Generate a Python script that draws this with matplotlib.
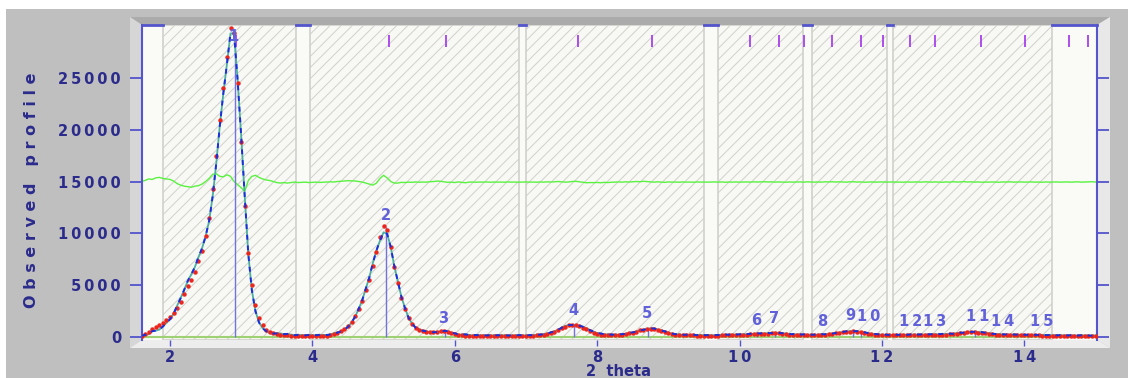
import numpy as np
import matplotlib
matplotlib.use("Agg")
import matplotlib.pyplot as plt
from matplotlib.patches import Polygon

W, H = 1128, 378

# 2-theta grid of the profile (step 0.05)
two_theta = np.round(np.arange(1.60, 15.001, 0.05), 2)

y_obs = np.array([
    100, 300, 500, 750, 950, 1100, 1300, 1600, 1900, 2300,
    2800, 3400, 4100, 4900, 5500, 6300, 7300, 8300, 9700, 11500,
    14300, 17500, 20900, 24000, 27000, 29800, 29300, 24500, 18800, 12600,
    8100, 5000, 3100, 1800, 1100, 700, 480, 330, 240, 190,
    160, 140, 120, 110, 100, 100, 90, 90, 100, 100,
    110, 120, 130, 200, 300, 400, 550, 750, 1050, 1450,
    2000, 2700, 3500, 4500, 5500, 6800, 8200, 9600, 10700, 10300,
    8700, 6700, 5200, 3800, 2700, 1800, 1200, 850, 650, 550,
    480, 450, 450, 500, 560, 550, 480, 350, 250, 180,
    150, 130, 120, 110, 110, 100, 100, 100, 100, 100,
    100, 100, 100, 90, 90, 90, 100, 100, 100, 110,
    120, 140, 170, 220, 290, 390, 520, 680, 850, 1000,
    1100, 1150, 1130, 1050, 900, 720, 540, 390, 280, 210,
    170, 150, 150, 160, 180, 210, 260, 330, 420, 520,
    620, 700, 760, 780, 750, 680, 580, 460, 350, 270,
    210, 180, 160, 150, 140, 140, 130, 130, 120, 110,
    110, 120, 130, 140, 150, 160, 170, 180, 190, 200,
    220, 240, 260, 280, 300, 310, 320, 330, 350, 340,
    300, 260, 230, 210, 200, 190, 180, 170, 160, 170,
    180, 200, 220, 250, 290, 330, 380, 430, 480, 520,
    530, 500, 450, 380, 320, 260, 220, 190, 170, 150,
    140, 140, 150, 150, 160, 160, 170, 170, 180, 180,
    190, 190, 200, 200, 210, 220, 230, 250, 280, 320,
    360, 400, 430, 450, 440, 420, 390, 350, 300, 260,
    230, 210, 200, 190, 180, 170, 160, 160, 150, 150,
    150, 140, 140, 130, 130, 120, 120, 110, 110, 100,
    100, 100, 100, 100, 100, 90, 90, 100, 100,
])

# Yobs - Ycalc
y_diff = np.array([
    0, 100, 250, 200, 350, 400, 300, 250, 200, 50,
    -200, -350, -450, -500, -550, -450, -400, -250, 0, 300,
    700, 750, 500, 450, 650, 500, 0, -300, -600, -950,
    100, 500, 600, 400, 250, 150, 100, 0, -100, -150,
    -100, -150, -100, -50, -100, -80, -60, -100, -80, -60,
    -90, -70, -50, -30, -50, 0, 20, 50, 80, 60,
    50, 0, -50, -150, -250, -350, -150, 300, 600, 350,
    0, -150, -150, -80, -100, -60, -80, -40, -70, -50,
    -60, -20, 0, 40, 20, -30, -80, -60, -100, -40,
    -80, -120, -60, -50, -70, -50, -60, -40, -70, -50,
    -60, -50, -70, -40, -60, -50, -70, -50, -40, -60,
    -50, -70, -40, -60, -30, -50, -20, 0, -30, -60,
    -40, 0, 20, -30, -80, -120, -100, -110, -90, -120,
    -80, -100, -70, -60, -40, -60, -30, -50, -20, 0,
    -20, 20, -10, -40, -60, -30, -50, -80, -40, -60,
    -50, -70, -40, -60, -50, -70, -40, -60, -50, -60,
    -50, -40, -60, -40, -70, -50, -60, -40, -60, -50,
    -40, -60, -30, -50, -40, -20, -50, -30, -60, -40,
    -50, -70, -40, -60, -50, -40, -60, -30, -50, -60,
    -40, -60, -30, -40, -20, -50, -30, -40, -60, -30,
    -20, -50, -40, -70, -50, -40, -60, -50, -40, -60,
    -50, -40, -60, -50, -70, -40, -60, -50, -40, -60,
    -30, -50, -60, -40, -50, -70, -40, -60, -20, -50,
    -40, -10, -50, -30, -60, -40, -70, -50, -60, -40,
    -50, -70, -40, -50, -30, -60, -50, -40, -60, -50,
    -40, -60, -50, -70, -40, -60, -50, -40, -60, -50,
    -40, -60, -50, -30, -60, -50, -40, -20, -50,
])
y_calc = y_obs - y_diff
diff_offset = 15000

# excluded (white) regions and fitted (hatched) regions
excluded = [(1.60, 1.90), (3.77, 3.97), (6.90, 7.00), (9.50, 9.70),
            (10.89, 11.02), (12.07, 12.15), (14.39, 15.02)]
included = [(1.90, 3.77), (3.97, 6.90), (7.00, 9.50), (9.70, 10.89),
            (11.02, 12.07), (12.15, 14.39)]

# Bragg reflection positions (top ticks)
bragg_pos = [2.93, 5.07, 5.88, 7.73, 8.77, 10.14, 10.55, 10.90, 11.30, 11.70,
             12.02, 12.39, 12.75, 13.39, 14.01, 14.63, 14.90]

# peak marker lines and labels
refl_pos = [2.91, 5.03, 5.86, 7.68, 8.72, 10.25, 10.50, 11.60, 11.70, 13.30]
refl_height = [29400, 10600, 500, 1100, 780, 280, 330, 480, 450, 430]
peak_labels = ["1", "2", "3", "4", "5", "6", "7", "8", "9", "1\u20090",
               "1\u20092", "1\u20093", "1\u20091", "1\u20094", "1\u20095"]
label_x = [2.89, 5.03, 5.83, 7.66, 8.70, 10.24, 10.48, 11.16, 11.56, 11.82,
           12.40, 12.74, 13.35, 13.70, 14.24]
label_y = [29000, 11700, 1800, 2500, 2300, 1600, 1800, 1500, 2100, 2000,
           1500, 1500, 2000, 1500, 1500]

x_ticks = [2, 4, 6, 8, 10, 12, 14]
x_ticklabels = ["2", "4", "6", "8", "1\u20090", "1\u20092", "1\u20094"]
y_ticks = [0, 5000, 10000, 15000, 20000, 25000]
y_ticklabels = ["0", "5\u20090\u20090\u20090", "1\u20090\u20090\u20090\u20090",
                "1\u20095\u20090\u20090\u20090", "2\u20090\u20090\u20090\u20090",
                "2\u20095\u20090\u20090\u20090"]

blue = (0.33, 0.33, 0.80)
navy = (0.17, 0.17, 0.55)
hatch_grey = (0.82, 0.82, 0.80)
plt.rcParams['font.family'] = ['DejaVu Sans']
plt.rcParams['hatch.linewidth'] = 0.7
plt.rcParams['hatch.color'] = hatch_grey


def fp(x, y):
    return (x / W, 1 - y / H)


fig = plt.figure(figsize=(W / 100, H / 100), dpi=100)
fig.patch.set_facecolor('white')

# grey panel and 3D frame
fig.add_artist(Polygon([fp(6, 9), fp(W, 9), fp(W, H), fp(6, H)], closed=True,
                       transform=fig.transFigure, facecolor=(0.75, 0.75, 0.75),
                       edgecolor='none', zorder=-3))
fig.add_artist(Polygon([fp(130, 17), fp(1110, 17), fp(1097, 25), fp(142, 25)],
                       transform=fig.transFigure, facecolor=(0.67, 0.67, 0.67),
                       edgecolor='none', zorder=-2))
fig.add_artist(Polygon([fp(130, 17), fp(142, 25), fp(142, 340), fp(130, 348)],
                       transform=fig.transFigure, facecolor=(0.84, 0.84, 0.84),
                       edgecolor='none', zorder=-2))
fig.add_artist(Polygon([fp(1097, 25), fp(1110, 17), fp(1110, 348), fp(1097, 340)],
                       transform=fig.transFigure, facecolor=(0.91, 0.91, 0.91),
                       edgecolor='none', zorder=-2))
fig.add_artist(Polygon([fp(130, 348), fp(142, 340), fp(1097, 340), fp(1110, 348)],
                       transform=fig.transFigure, facecolor=(0.93, 0.93, 0.93),
                       edgecolor='none', zorder=-2))

ax = fig.add_axes([142 / W, 1 - 340 / H, (1097 - 142) / W, (340 - 25) / H])
ax.set_facecolor((0.98, 0.98, 0.965))
ax.set_xlim(1.607, 15.02)
ax.set_ylim(-300, 30110)

for a, b in included:
    ax.axvspan(a, b, facecolor=(0.972, 0.972, 0.955), edgecolor=hatch_grey,
               hatch='///', lw=1.2, zorder=0.5)

# zero line
ax.axhline(0, color=(0.62, 0.82, 0.45), lw=1.5, zorder=1)

# difference curve
ax.plot(two_theta, y_diff + diff_offset, color=(0.35, 0.95, 0.25), lw=1.0, zorder=2)

# reflection lines
ax.vlines(refl_pos, 0, refl_height, color=(0.45, 0.45, 0.88), lw=1.0, zorder=2)

# profile
ax.plot(two_theta, y_calc, color=(0.30, 0.68, 0.64), lw=1.3, zorder=3)
ax.plot(two_theta, y_obs, 'o', color=(0.92, 0.15, 0.12), ms=3.2, mew=0, zorder=4)
ax.plot(two_theta, y_calc, color=(0.10, 0.18, 0.85), lw=1.4, dashes=(2.5, 3), zorder=5)

# Bragg ticks
ax.vlines(bragg_pos, 28000, 29150, color=(0.68, 0.30, 0.92), lw=1.4, zorder=3)

for lab, lx, ly in zip(peak_labels, label_x, label_y):
    ax.text(lx, ly, lab, color=(0.38, 0.38, 0.85), fontsize=10.5, fontweight='bold',
            ha='center', va='center', zorder=6)

# top border only over excluded regions
for a, b in excluded:
    ax.plot([a, b], [30110, 30110], color=blue, lw=2, clip_on=False, zorder=6)

ax.spines['top'].set_visible(False)
ax.spines['bottom'].set_visible(False)
for s in ['left', 'right']:
    ax.spines[s].set_color(blue)
    ax.spines[s].set_linewidth(1.5)

ax.set_xticks(x_ticks)
ax.set_xticklabels(x_ticklabels)
ax.set_yticks(y_ticks)
ax.set_yticklabels(y_ticklabels)
ax.tick_params(axis='y', direction='out', length=8.6, width=1.3, color=blue,
               right=True, labelright=False, pad=6.5, labelsize=10.5,
               labelcolor=navy)
ax.tick_params(axis='x', direction='out', length=4.3, width=1.0, color=blue,
               pad=3.2, labelsize=10.5, labelcolor=navy)
for t in ax.get_xticklabels() + ax.get_yticklabels():
    t.set_fontweight('bold')

fig.text(619 / W, 1 - 376 / H, "2  theta", color=navy, fontsize=10.5,
         fontweight='bold', ha='center', va='baseline')
fig.text(32 / W, 1 - 190 / H, "O b s e r v e d   p r o f i l e", color=navy,
         fontsize=11.5, fontweight='bold', rotation=90, ha='center', va='center')

fig.savefig("out.png", dpi=100)
